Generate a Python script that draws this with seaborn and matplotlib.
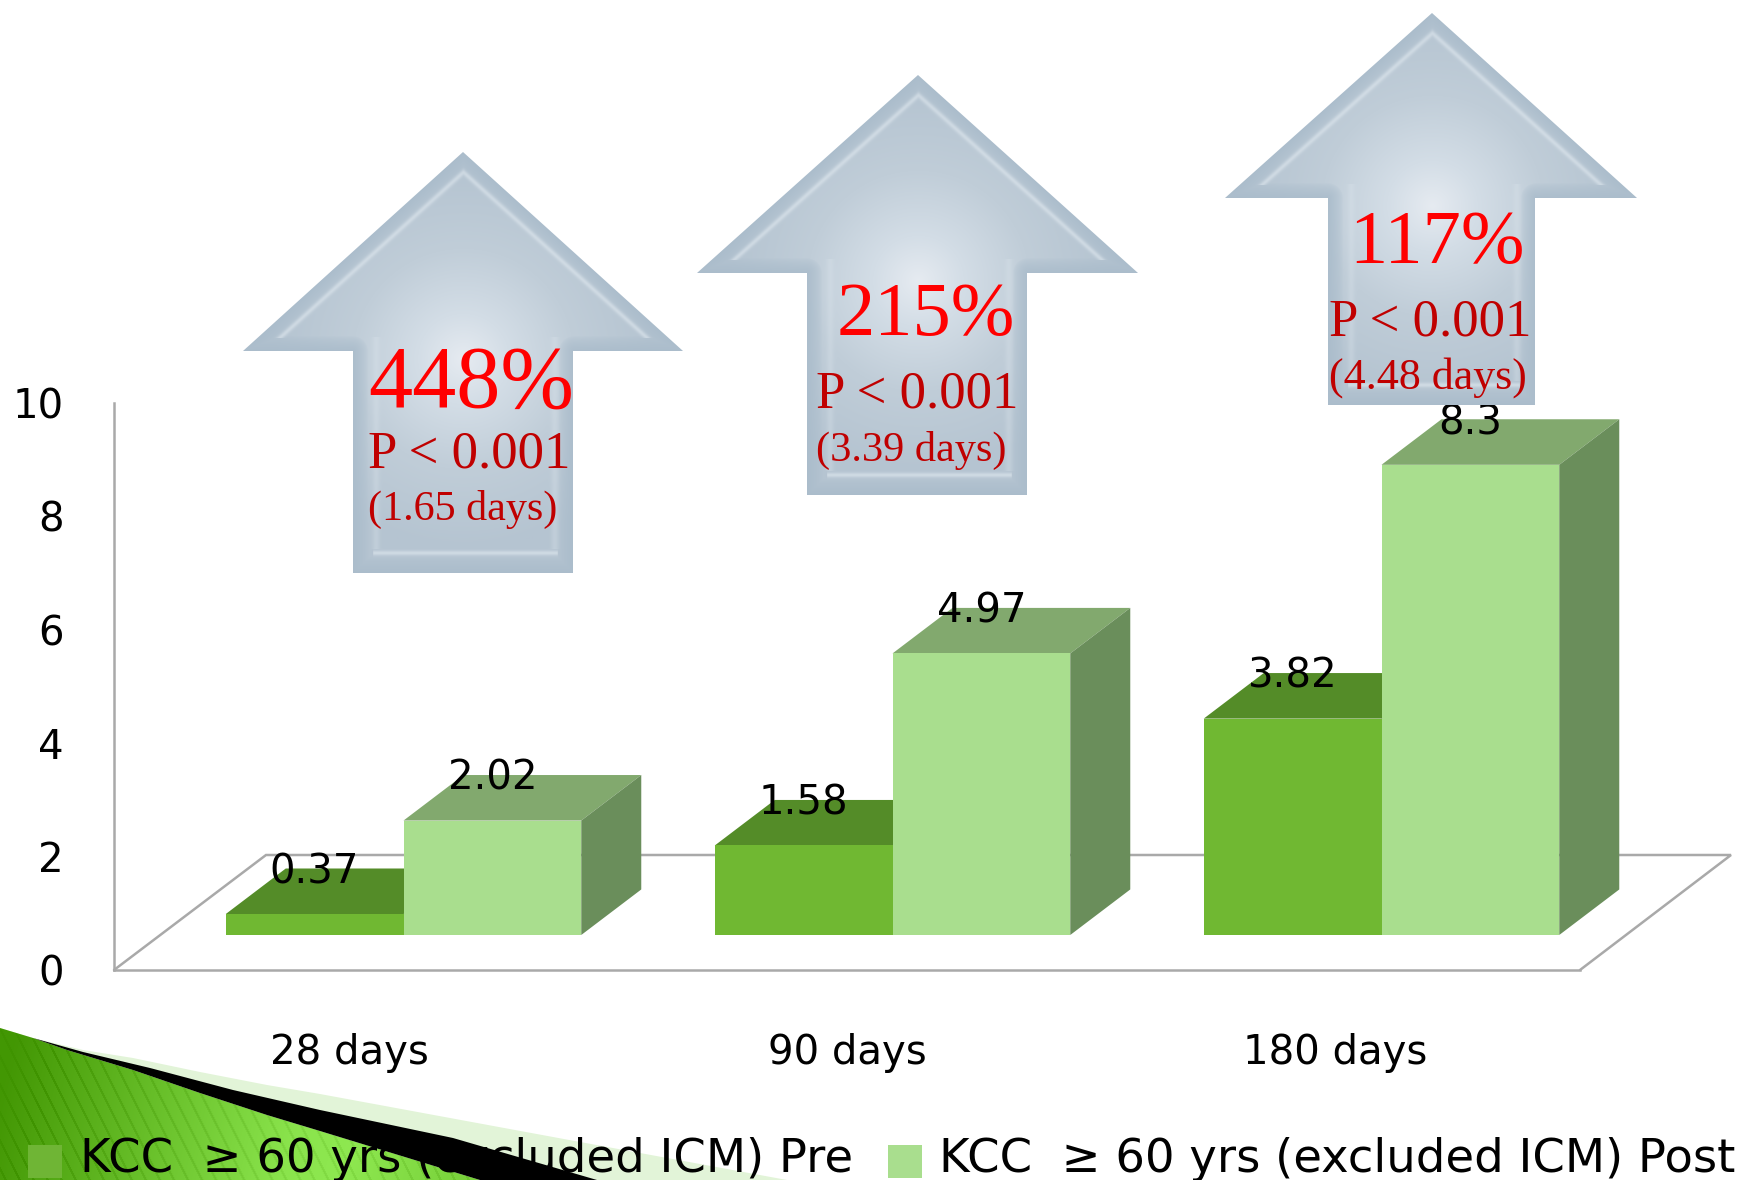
import numpy as np
import pandas as pd
import matplotlib
matplotlib.use("Agg")
import matplotlib.pyplot as plt
from matplotlib.colors import LinearSegmentedColormap, to_rgb
from matplotlib.patches import Polygon, Rectangle
from matplotlib.transforms import ScaledTranslation
import seaborn as sns

# ---- data ----
periods = ["28 days", "90 days", "180 days"]
pre_values = [0.37, 1.58, 3.82]
post_values = [2.02, 4.97, 8.3]
pre_name = "KCC  \u2265 60 yrs (excluded ICM) Pre"
post_name = "KCC  \u2265 60 yrs (excluded ICM) Post"
arrow_pct = ["448%", "215%", "117%"]
arrow_p = ["P < 0.001", "P < 0.001", "P < 0.001"]
arrow_days = ["(1.65 days)", "(3.39 days)", "(4.48 days)"]

W, H = 1742, 1180
sns.set_theme(style="white")
SANS = ["DejaVu Sans"]
SERIF = ["Liberation Serif", "DejaVu Serif"]
plt.rcParams["font.family"] = SANS

fig = plt.figure(figsize=(W / 100, H / 100), dpi=100, facecolor="white")


def px_axes(left, top, right, bottom, z):
    a = fig.add_axes([left / W, 1 - bottom / H, (right - left) / W, (bottom - top) / H], zorder=z)
    a.patch.set_alpha(0)
    return a


canvas = px_axes(0, 0, W, H, 0)
top = px_axes(0, 0, W, H, 3)
for a in (canvas, top):
    a.set_xlim(0, W)
    a.set_ylim(H, 0)
    a.axis("off")

# ---- corner decoration ----
pale = [(33, 1038), (83, 1050), (133, 1058), (200, 1072), (267, 1085), (320, 1094), (553, 1137),
        (787, 1180), (0, 1180), (0, 1028)]
canvas.add_patch(Polygon(pale, closed=True, fc="#E2F4D8", ec="none", zorder=1))
green_poly = [(0, 1028), (33, 1038), (67, 1050), (133, 1070), (200, 1093), (267, 1115), (320, 1131),
              (480, 1180), (0, 1180)]
gx, gy = np.meshgrid(np.arange(0, 500), np.arange(1020, 1180))
t = np.interp(gx + 0.25 * (gy - 1100), [0, 300, 360, 500], [0.05, 0.95, 1.0, 0.7])
stripe = 0.16 * (np.sin((gx - 0.5 * gy) * 2 * np.pi / 14) > 0.8)
green_cmap = LinearSegmentedColormap.from_list("g", ["#3F9300", "#8EE850"])
gim = canvas.imshow(np.clip(t - stripe, 0, 1), cmap=green_cmap, vmin=0, vmax=1,
                    extent=(0, 500, 1180, 1020), aspect="auto", zorder=2)
gim.set_clip_path(Polygon(green_poly, closed=True, transform=canvas.transData))
canvas.set_xlim(0, W)
canvas.set_ylim(H, 0)

wedge = [(33, 1038), (83, 1052), (150, 1068), (233, 1090), (320, 1110), (453, 1138), (597, 1180),
         (480, 1180), (320, 1131), (267, 1115), (200, 1093), (133, 1070), (67, 1050)]
top.add_patch(Polygon(wedge, closed=True, fc="black", ec="none", zorder=1))

# ---- floor of the 3D plot ----
floor_c = "#A9A9A9"
canvas.plot([114, 266, 1731, 1580], [970, 855, 855, 970], color=floor_c, lw=1.8, zorder=3,
            solid_joinstyle="miter")

# ---- back wall axes: ticks and category labels ----
wall = px_axes(114, 403, 1580, 970, 1)
wall.set_xlim(-0.5, 2.5)
wall.set_ylim(0, 10)
wall.set_yticks([0, 2, 4, 6, 8, 10])
wall.set_xticks(range(3))
wall.set_xticklabels(periods)
wall.tick_params(axis="y", length=0, pad=36, labelsize=29, labelcolor="black")
wall.tick_params(axis="x", length=0, pad=45.5, labelsize=29, labelcolor="black")
first = wall.get_xticklabels()[0]
first.set_transform(first.get_transform() + ScaledTranslation(-9 / 100, 0, fig.dpi_scale_trans))
for side in ("top", "right"):
    wall.spines[side].set_visible(False)
for side in ("left", "bottom"):
    wall.spines[side].set_color(floor_c)
    wall.spines[side].set_linewidth(1.8)

# ---- bars ----
ax = px_axes(159, 368.5, 1626, 935, 2)
df = pd.DataFrame({
    "period": periods * 2,
    "value": pre_values + post_values,
    "series": [pre_name] * 3 + [post_name] * 3,
})
pre_front, post_front = "#70B832", "#A9DE8E"
sns.barplot(data=df, x="period", y="value", hue="series", hue_order=[pre_name, post_name],
            palette=[pre_front, post_front], saturation=1, width=0.727, gap=0,
            legend=False, ax=ax, zorder=3)
ax.set_xlim(-0.5, 2.5)
ax.set_ylim(0, 10)
ax.axis("off")

depth_x = 54 / 440
depth_y = 41 / 51
faces = [("#548C28", "#4A7D24"), ("#82A96E", "#6A8E5B")]
for container, (top_c, side_c) in zip(ax.containers, faces):
    for bar in container:
        x0, w, h = bar.get_x(), bar.get_width(), bar.get_height()
        ax.add_patch(Polygon([(x0, h), (x0 + w, h), (x0 + w + depth_x, h + depth_y), (x0 + depth_x, h + depth_y)],
                             closed=True, fc=top_c, ec="none", zorder=1, clip_on=False))
        ax.add_patch(Polygon([(x0 + w, 0), (x0 + w + depth_x, depth_y), (x0 + w + depth_x, h + depth_y), (x0 + w, h)],
                             closed=True, fc=side_c, ec="none", zorder=1, clip_on=False))
for container in ax.containers:
    for bar in container:
        bar.set_edgecolor("none")
        ax.annotate(f"{bar.get_height():g}", (bar.get_x() + bar.get_width() / 2, bar.get_height()),
                    xytext=(0, 30), textcoords="offset points", ha="center", va="center",
                    fontsize=29, color="black", zorder=6, annotation_clip=False)

# ---- legend ----
canvas.add_patch(Rectangle((28, 1145), 34, 33, fc="#6FB535", ec="none", zorder=4))
canvas.add_patch(Rectangle((888, 1145), 34, 33, fc="#A9DE8E", ec="none", zorder=4))
canvas.text(80, 1172, pre_name, fontsize=33.45, color="black", ha="left", va="baseline", zorder=5)
canvas.text(939, 1172, post_name, fontsize=33.5, color="black", ha="left", va="baseline", zorder=5)

# ---- arrows ----
arrows = [
    dict(tip=(463, 152), base=351, left=243, right=683, sl=353, sr=573, bottom=573),
    dict(tip=(918, 75), base=273, left=697, right=1138, sl=807, sr=1027, bottom=495),
    dict(tip=(1432, 13), base=198, left=1225, right=1637, sl=1328, sr=1535, bottom=405),
]
text_y = [(407, 467, 520), (335, 407, 461), (263, 335, 389)]
pct_x = [368, 837, 1349]
xs = [368, 816, 1329]
pct_size = [63.5, 55, 55]
days_size = [30.3, 30.5, 31.7]


def seg_dist(X, Y, p, q):
    p, q = np.array(p, float), np.array(q, float)
    d = q - p
    s = np.clip(((X - p[0]) * d[0] + (Y - p[1]) * d[1]) / (d @ d), 0, 1)
    return np.hypot(X - (p[0] + s * d[0]), Y - (p[1] + s * d[1]))


def blend(img, color, alpha):
    c = np.array(to_rgb(color))
    return img * (1 - alpha[..., None]) + c * alpha[..., None]


for i, a in enumerate(arrows):
    tx, ty = a["tip"]
    base, bottom, sl, sr = a["base"], a["bottom"], a["sl"], a["sr"]
    poly = [(tx, ty), (a["right"], base), (sr, base), (sr, bottom), (sl, bottom), (sl, base), (a["left"], base)]
    x0, x1, y0, y1 = a["left"], a["right"], ty, bottom
    X, Y = np.meshgrid(np.arange(x0, x1) + 0.5, np.arange(y0, y1) + 0.5)
    d_roof = np.minimum(seg_dist(X, Y, poly[0], poly[1]), seg_dist(X, Y, poly[0], poly[6]))
    d_wing = np.minimum(seg_dist(X, Y, poly[1], poly[2]), seg_dist(X, Y, poly[5], poly[6]))
    d_side = np.minimum(seg_dist(X, Y, poly[2], poly[3]), seg_dist(X, Y, poly[4], poly[5]))
    d_bot = seg_dist(X, Y, poly[3], poly[4])
    d_all = np.minimum.reduce([d_roof, d_wing, d_side, d_bot])
    r = np.hypot(X - tx, Y - (base + 8))
    stops = [0, 45, 110, 190]
    cols = np.array([to_rgb(c) for c in ("#E6EBF1", "#D3DDE6", "#C0CDD8", "#B5C4D1")])
    img = np.dstack([np.interp(r, stops, cols[:, k]) for k in range(3)])
    img = blend(img, "#AABCCB", np.clip(1 - d_all / 15, 0, 1) ** 0.6 * 0.9)
    glow = np.exp(-((d_roof - 15) / 2.4) ** 2) * (Y < base - 13) * 0.6
    img = blend(img, "#DDE6ED", glow)
    side = (np.exp(-((X - (sl + 23)) / 3.5) ** 2) + np.exp(-((X - (sr - 19)) / 3.5) ** 2))
    side = side * (Y > base - 14) * (Y < bottom - 24) * 0.3
    img = blend(img, "#DDE6ED", side)
    low = np.exp(-((Y - (bottom - 20)) / 2.4) ** 2) * (X > sl + 20) * (X < sr - 16) * 0.65
    img = blend(img, "#DDE6ED", low)
    im = top.imshow(np.clip(img, 0, 1), extent=(x0, x1, y1, y0), aspect="auto", zorder=2)
    im.set_clip_path(Polygon(poly, closed=True, transform=top.transData))
    top.text(pct_x[i], text_y[i][0], arrow_pct[i], family=SERIF, fontsize=pct_size[i],
             color="#FF0000", ha="left", va="baseline", zorder=6)
    top.text(xs[i], text_y[i][1], arrow_p[i], family=SERIF, fontsize=38, color="#C00000",
             ha="left", va="baseline", zorder=6)
    top.text(xs[i], text_y[i][2], arrow_days[i], family=SERIF, fontsize=days_size[i], color="#C00000",
             ha="left", va="baseline", zorder=6)
top.set_xlim(0, W)
top.set_ylim(H, 0)

fig.savefig("out.png", dpi=100, facecolor="white")
